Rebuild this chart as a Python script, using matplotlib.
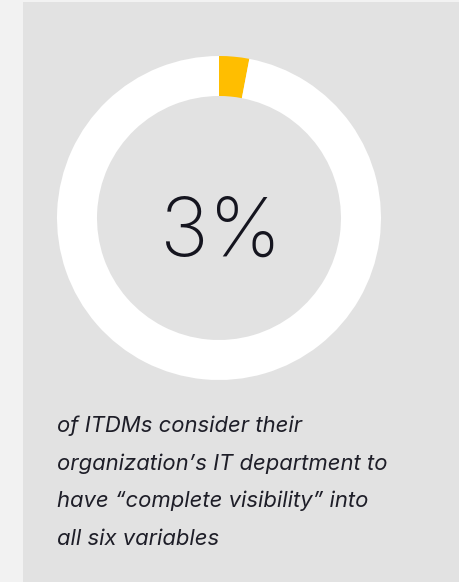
import matplotlib.pyplot as plt
from matplotlib.patches import Rectangle

# data
share = [3, 97]
share_colors = ["#FFBE00", "#FFFFFF"]
big_label = "3%"
caption_lines = [
    "of ITDMs consider their",
    "organization\u2019s IT department to",
    "have \u201ccomplete visibility\u201d into",
    "all six variables",
]

W, H = 459, 582
fig = plt.figure(figsize=(W / 100, H / 100), dpi=100)
fig.patch.set_facecolor("#F2F2F2")
ax = fig.add_axes([0, 0, 1, 1])

# grey card
ax.add_patch(Rectangle((23, 0), W - 23, H - 2, facecolor="#E2E2E2", edgecolor="none", zorder=0))

# donut
ax.pie(share, colors=share_colors, startangle=90, counterclock=False,
       center=(219, H - 218), radius=162, frame=True,
       wedgeprops=dict(width=40, edgecolor="none", linewidth=0))
ax.set_xlim(0, W)
ax.set_ylim(0, H)
ax.set_aspect("equal")
ax.axis("off")

ax.text(221, H - 256, big_label, ha="center", va="baseline", fontsize=59,
        family="Inter", fontweight="light", color="#15151F")

for i, line in enumerate(caption_lines):
    ax.text(57, H - (432 + i * 37.7), line, ha="left", va="baseline",
            fontsize=15.9, style="italic", family="Inter", color="#1E1E28")

fig.savefig("out.png", dpi=100)
